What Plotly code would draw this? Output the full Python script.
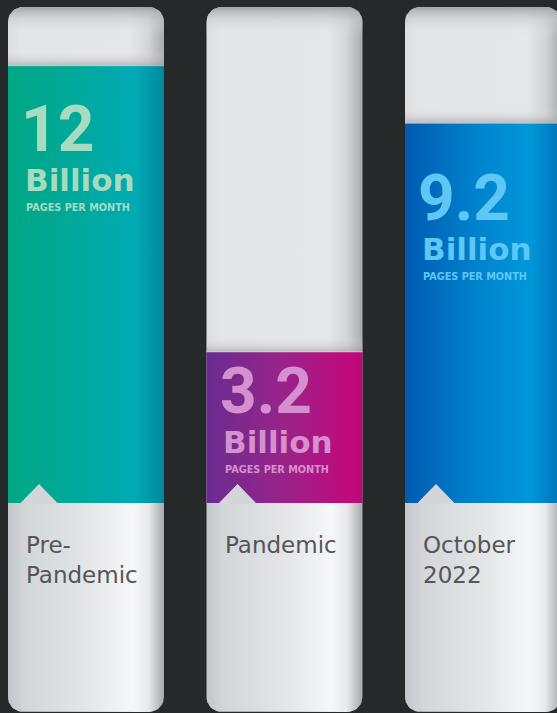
import numpy as np
import plotly.graph_objects as go

# ---------------- data ----------------
categories = ["Pre-<br>Pandemic", "Pandemic", "October<br>2022"]
values = [12, 3.2, 9.2]                # billion pages per month
value_labels = ["12", "3.2", "9.2"]
unit_label = "Billion"
sub_label = "PAGES PER MONTH"

# ---------------- styling ----------------
W, H = 557, 713
BG = "#25292a"
COL_C0, COL_STEP, COL_HALF = 86.0, 198.5, 78.0      # px
BASE_PX = 503.0        # baseline of the coloured fills (px from top)
TUBE_TOP, TUBE_BOT, RAD = 7.0, 712.0, 15.0
LOG_MIN = 0.2022       # log10 value at the baseline
PX_PER_DECADE = 498.6
LOG_MAX = LOG_MIN + BASE_PX / PX_PER_DECADE

fill_scales = [
    [[0, "#00a784"], [0.45, "#00a99c"], [0.82, "#00aab4"], [1, "#00889c"]],
    [[0, "#692c91"], [0.5, "#9a2389"], [0.93, "#c2097b"], [1, "#b50a78"]],
    [[0, "#005ab0"], [0.45, "#0082cc"], [0.8, "#0098da"], [1, "#0071b9"]],
]
text_colors = ["#a6dbc0", "#d590d0", "#5ec7f5"]
num_baseline = [152.7, 414.0, 221.7]
NUM_SIZE, UNIT_SIZE, SUB_SIZE, CAT_SIZE = 64, 31, 9.7, 23
NUM_FONT = "Roboto"
UNIT_FONT = "DejaVu Sans"
CAT_FONT = "DejaVu Sans"
CAT_COLOR = "#555658"
CAT_BASELINE = 553.0

upper_scale = [[0, "#dcdddf"], [0.08, "#e4e5e6"], [0.78, "#e6e7e8"], [0.9, "#d3d4d6"], [1, "#a7a9ac"]]
lower_scale = [[0, "#c3c7cb"], [0.12, "#d3d7da"], [0.5, "#e3e5e7"], [0.8, "#f6f7f8"], [0.9, "#e8e9ea"], [1, "#a6a8ab"]]
cap_scale = [[0, "rgba(160,162,165,0.95)"], [0.45, "rgba(200,201,203,0.45)"], [1, "rgba(230,231,232,0)"]]
shadow_scale = [[0, "rgba(150,152,155,0.55)"], [0.5, "rgba(190,191,193,0.25)"], [1, "rgba(230,231,232,0)"]]
CAP_H, SHADOW_H = 30.0, 16.0


def rounded(left, right, top, bottom, r_top, r_bot, n=10):
    xs, ys = [], []
    for t in np.linspace(np.pi, 1.5 * np.pi, n):
        xs.append(left + r_top + r_top * np.cos(t)); ys.append(top + r_top + r_top * np.sin(t))
    for t in np.linspace(1.5 * np.pi, 2 * np.pi, n):
        xs.append(right - r_top + r_top * np.cos(t)); ys.append(top + r_top + r_top * np.sin(t))
    for t in np.linspace(0, 0.5 * np.pi, n):
        xs.append(right - r_bot + r_bot * np.cos(t)); ys.append(bottom - r_bot + r_bot * np.sin(t))
    for t in np.linspace(0.5 * np.pi, np.pi, n):
        xs.append(left + r_bot + r_bot * np.cos(t)); ys.append(bottom - r_bot + r_bot * np.sin(t))
    xs.append(xs[0]); ys.append(ys[0])
    return xs, ys


fig = go.Figure()
n = len(values)
noline = dict(width=0, color="rgba(0,0,0,0)")

# tubes (decorative, pixel subplot x/y)
for i in range(n):
    cx = COL_C0 + COL_STEP * i
    l, r = cx - COL_HALF, cx + COL_HALF
    xs, ys = rounded(l, r, TUBE_TOP, BASE_PX, RAD, 0)
    fig.add_trace(go.Scatter(x=xs, y=ys, mode="lines", fill="toself", line=noline,
                             fillgradient=dict(type="horizontal", colorscale=upper_scale),
                             hoverinfo="skip", showlegend=False, xaxis="x", yaxis="y"))
    xs, ys = rounded(l, r, BASE_PX - 1, TUBE_BOT, 0, RAD)
    fig.add_trace(go.Scatter(x=xs, y=ys, mode="lines", fill="toself", line=noline,
                             fillgradient=dict(type="horizontal", colorscale=lower_scale),
                             hoverinfo="skip", showlegend=False, xaxis="x", yaxis="y"))
    xs, ys = rounded(l, r, TUBE_TOP, TUBE_TOP + CAP_H, RAD, 0)
    fig.add_trace(go.Scatter(x=xs, y=ys, mode="lines", fill="toself", line=noline,
                             fillgradient=dict(type="vertical", start=TUBE_TOP, stop=TUBE_TOP + CAP_H,
                                               colorscale=cap_scale),
                             hoverinfo="skip", showlegend=False, xaxis="x", yaxis="y"))

# coloured fills (data subplot x2/y2, log scale)
hw = COL_HALF / COL_STEP
y_base = 10 ** LOG_MIN / 2
shadow_factor = 10 ** (SHADOW_H / PX_PER_DECADE)
for i, v in enumerate(values):
    fig.add_trace(go.Scatter(x=[i - hw, i - hw, i + hw, i + hw, i - hw],
                             y=[v, v * shadow_factor, v * shadow_factor, v, v],
                             mode="lines", fill="toself", line=noline,
                             fillgradient=dict(type="vertical", start=v, stop=v * shadow_factor,
                                               colorscale=shadow_scale),
                             hoverinfo="skip", showlegend=False, xaxis="x2", yaxis="y2"))
    fig.add_trace(go.Scatter(x=[i - hw, i - hw, i + hw, i + hw, i - hw], y=[y_base, v, v, y_base, y_base],
                             mode="lines", fill="toself", line=noline,
                             fillgradient=dict(type="horizontal", colorscale=fill_scales[i]),
                             hoverinfo="skip", showlegend=False, xaxis="x2", yaxis="y2"))
    fig.add_trace(go.Scatter(x=[i - hw, i + hw], y=[v, v], mode="lines",
                             line=dict(width=1.2, color="rgba(255,255,255,0.35)"),
                             hoverinfo="skip", showlegend=False, xaxis="x2", yaxis="y2"))

shapes = []
annotations = []
for i in range(n):
    cx = COL_C0 + COL_STEP * i
    l = cx - COL_HALF
    shapes.append(dict(type="path", xref="x", yref="y", layer="above",
                       path=f"M{l+12},{BASE_PX+0.5} L{l+31},{BASE_PX-19} L{l+50},{BASE_PX+0.5} Z",
                       fillcolor="#d3d6d9", line=dict(width=0)))
    c = text_colors[i]
    nb = num_baseline[i]
    annotations.append(dict(xref="x", yref="y", x=l + 12, y=nb - 1 - 0.35 * NUM_SIZE, xanchor="left", yanchor="middle",
                            text=value_labels[i], showarrow=False, height=54, valign="middle", borderpad=0,
                            font=dict(family=NUM_FONT, size=NUM_SIZE, color=c, weight=700)))
    annotations.append(dict(xref="x", yref="y", x=l + 15.5, y=nb + 38.5 - 0.35 * UNIT_SIZE, xanchor="left", yanchor="middle",
                            text=unit_label, showarrow=False, height=30, valign="middle", borderpad=0,
                            font=dict(family=UNIT_FONT, size=UNIT_SIZE, color=c, weight=700)))
    annotations.append(dict(xref="x", yref="y", x=l + 17, y=nb + 58.5 - 0.35 * SUB_SIZE, xanchor="left", yanchor="middle",
                            text=sub_label, showarrow=False, height=11, valign="middle", borderpad=0,
                            font=dict(family=UNIT_FONT, size=SUB_SIZE, color=c, weight=700)))
    nl = categories[i].count("<br>") + 1
    annotations.append(dict(xref="x", yref="y", x=l + 16, y=CAT_BASELINE - 0.35 * CAT_SIZE + (nl - 1) * 0.65 * CAT_SIZE,
                            xanchor="left", yanchor="middle", align="left",
                            text=categories[i], showarrow=False,
                            font=dict(family=CAT_FONT, size=CAT_SIZE, color=CAT_COLOR)))

ax_off = dict(visible=False, showgrid=False, zeroline=False, fixedrange=True)
fig.update_layout(
    width=W, height=H, margin=dict(l=0, r=0, t=0, b=0),
    paper_bgcolor=BG, plot_bgcolor="rgba(0,0,0,0)",
    xaxis=dict(range=[0, W], domain=[0, 1], anchor="y", **ax_off),
    yaxis=dict(range=[H, 0], domain=[0, 1], anchor="x", **ax_off),
    xaxis2=dict(range=[-COL_C0 / COL_STEP, (W - COL_C0) / COL_STEP], domain=[0, 1], anchor="y2", **ax_off),
    yaxis2=dict(type="log", range=[LOG_MIN, LOG_MAX], domain=[(H - BASE_PX) / H, 1], anchor="x2", **ax_off),
    shapes=shapes, annotations=annotations,
)
fig.write_html("out.html", config={"displayModeBar": False},
               post_script="document.body.style.margin='0';document.body.style.overflow='hidden';"
                           "document.body.style.background='#25292a';")
